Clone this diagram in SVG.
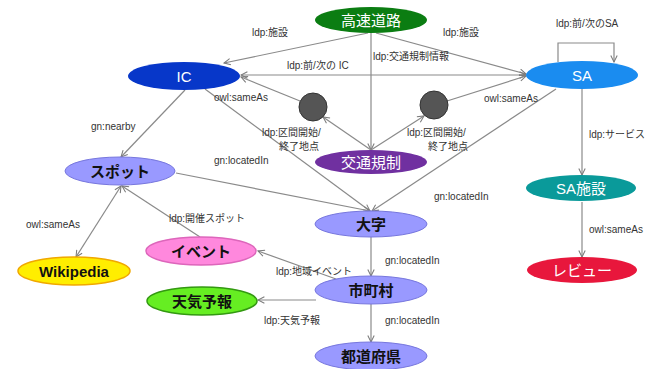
<svg xmlns="http://www.w3.org/2000/svg" width="658" height="369" viewBox="0 0 658 369">
<style>
.e{stroke:#8a8a8a;stroke-width:1.2;fill:none}
.l{font-family:"Liberation Sans","Noto Sans CJK JP",sans-serif;font-size:10px;fill:#333}
.t{font-family:"Liberation Sans","Noto Sans CJK JP",sans-serif;font-size:15px;text-anchor:middle;dominant-baseline:central}
.w{fill:#fff}
.d{fill:#111;font-weight:bold}
</style>
<defs>
<marker id="a" viewBox="0 0 10 10" refX="9" refY="5" markerWidth="8" markerHeight="8" orient="auto-start-reverse" markerUnits="userSpaceOnUse">
<path d="M1,1 L9,5 L1,9" fill="none" stroke="#7a7a7a" stroke-width="1.3"/>
</marker>
</defs>
<rect width="658" height="369" fill="#fff"/>
<g id="connectors">
<line class="e" x1="368" y1="33" x2="224" y2="63" marker-end="url(#a)"/>
<line class="e" x1="376" y1="33" x2="526" y2="74" marker-end="url(#a)"/>
<line class="e" x1="371" y1="33" x2="371" y2="150" marker-end="url(#a)"/>
<line class="e" x1="241" y1="75" x2="526" y2="75" marker-start="url(#a)" marker-end="url(#a)"/>
<path class="e" d="M558,62 V43 H614 V62" marker-end="url(#a)"/>
<line class="e" x1="300" y1="101" x2="241" y2="77" marker-end="url(#a)"/>
<line class="e" x1="447" y1="101" x2="526" y2="76" marker-end="url(#a)"/>
<line class="e" x1="371" y1="150" x2="323" y2="117" marker-end="url(#a)"/>
<line class="e" x1="371" y1="150" x2="424" y2="116" marker-end="url(#a)"/>
<line class="e" x1="205" y1="89" x2="370" y2="211" marker-end="url(#a)"/>
<line class="e" x1="556" y1="89" x2="372" y2="211" marker-end="url(#a)"/>
<line class="e" x1="176" y1="173" x2="370" y2="211" marker-end="url(#a)"/>
<line class="e" x1="185" y1="90" x2="121" y2="157" marker-end="url(#a)"/>
<line class="e" x1="121" y1="186" x2="76" y2="257" marker-start="url(#a)" marker-end="url(#a)"/>
<line class="e" x1="200" y1="237" x2="122" y2="186" marker-end="url(#a)"/>
<line class="e" x1="336" y1="279" x2="258" y2="251" marker-end="url(#a)"/>
<line class="e" x1="316" y1="300" x2="258" y2="300" marker-end="url(#a)"/>
<line class="e" x1="371" y1="237" x2="371" y2="276" marker-end="url(#a)"/>
<line class="e" x1="371" y1="304" x2="371" y2="342" marker-end="url(#a)"/>
<line class="e" x1="582" y1="89" x2="582" y2="175" marker-end="url(#a)"/>
<line class="e" x1="582" y1="202" x2="582" y2="257" marker-end="url(#a)"/>
</g>
<g id="labels">
<text class="l" x="252" y="36">ldp:施設</text>
<text class="l" x="443" y="36">ldp:施設</text>
<text class="l" x="373" y="60">ldp:交通規制情報</text>
<text class="l" x="287" y="69">ldp:前/次の IC</text>
<text class="l" x="556" y="27">ldp:前/次のSA</text>
<text class="l" x="214" y="101">owl:sameAs</text>
<text class="l" x="484" y="102">owl:sameAs</text>
<text class="l" x="262" y="136">ldp:区間開始/</text>
<text class="l" x="279" y="150">終了地点</text>
<text class="l" x="407" y="136">ldp:区間開始/</text>
<text class="l" x="428" y="150">終了地点</text>
<text class="l" x="91" y="130">gn:nearby</text>
<text class="l" x="214" y="164">gn:locatedIn</text>
<text class="l" x="434" y="200">gn:locatedIn</text>
<text class="l" x="589" y="138">ldp:サービス</text>
<text class="l" x="589" y="233">owl:sameAs</text>
<text class="l" x="26" y="228">owl:sameAs</text>
<text class="l" x="169" y="222">ldp:開催スポット</text>
<text class="l" x="276" y="275">ldp:地域イベント</text>
<text class="l" x="264" y="324">ldp:天気予報</text>
<text class="l" x="385" y="264">gn:locatedIn</text>
<text class="l" x="385" y="324">gn:locatedIn</text>
</g>
<g id="n-kousoku"><ellipse cx="371" cy="20" rx="56" ry="13" fill="#0b7d12"/><text class="t w" x="371" y="20">高速道路</text></g>
<g id="n-ic"><ellipse cx="184" cy="76" rx="56" ry="14" fill="#0737c9"/><text class="t w" x="184" y="76">IC</text></g>
<g id="n-sa"><ellipse cx="582" cy="75" rx="56" ry="14" fill="#1a8cf0"/><text class="t w" x="582" y="75">SA</text></g>
<g id="n-c1"><circle cx="313" cy="107" r="14" fill="#555" stroke="#333" stroke-width="1"/></g>
<g id="n-c2"><circle cx="434" cy="105" r="14" fill="#555" stroke="#333" stroke-width="1"/></g>
<g id="n-kisei"><ellipse cx="371" cy="162" rx="56" ry="12" fill="#7030a0"/><text class="t w" x="371" y="162">交通規制</text></g>
<g id="n-spot"><ellipse cx="120" cy="171" rx="55" ry="14" fill="#9999ff" stroke="#7777dd" stroke-width="1"/><text class="t d" x="120" y="171">スポット</text></g>
<g id="n-sashisetsu"><ellipse cx="581" cy="188" rx="55" ry="13" fill="#0a9a9a"/><text class="t w" x="581" y="188">SA施設</text></g>
<g id="n-review"><ellipse cx="582" cy="270" rx="55" ry="13" fill="#e8173c"/><text class="t w" x="582" y="270">レビュー</text></g>
<g id="n-oaza"><ellipse cx="371" cy="224" rx="56" ry="13" fill="#9999ff" stroke="#7777dd" stroke-width="1"/><text class="t d" x="371" y="224">大字</text></g>
<g id="n-wiki"><ellipse cx="74" cy="271" rx="56" ry="14" fill="#ffee00" stroke="#f0a800" stroke-width="1.5"/><text class="t d" x="74" y="271">Wikipedia</text></g>
<g id="n-event"><ellipse cx="201" cy="251" rx="55" ry="14" fill="#ff88dd" stroke="#dd66bb" stroke-width="1.5"/><text class="t d" x="201" y="251">イベント</text></g>
<g id="n-tenki"><ellipse cx="202" cy="301" rx="55" ry="14" fill="#66ee22" stroke="#339911" stroke-width="1.5"/><text class="t d" x="202" y="301">天気予報</text></g>
<g id="n-shichoson"><ellipse cx="371" cy="290" rx="56" ry="14" fill="#9999ff" stroke="#7777dd" stroke-width="1"/><text class="t d" x="371" y="290">市町村</text></g>
<g id="n-todofuken"><ellipse cx="371" cy="356" rx="56" ry="14" fill="#9999ff" stroke="#7777dd" stroke-width="1"/><text class="t d" x="371" y="356">都道府県</text></g>
</svg>
